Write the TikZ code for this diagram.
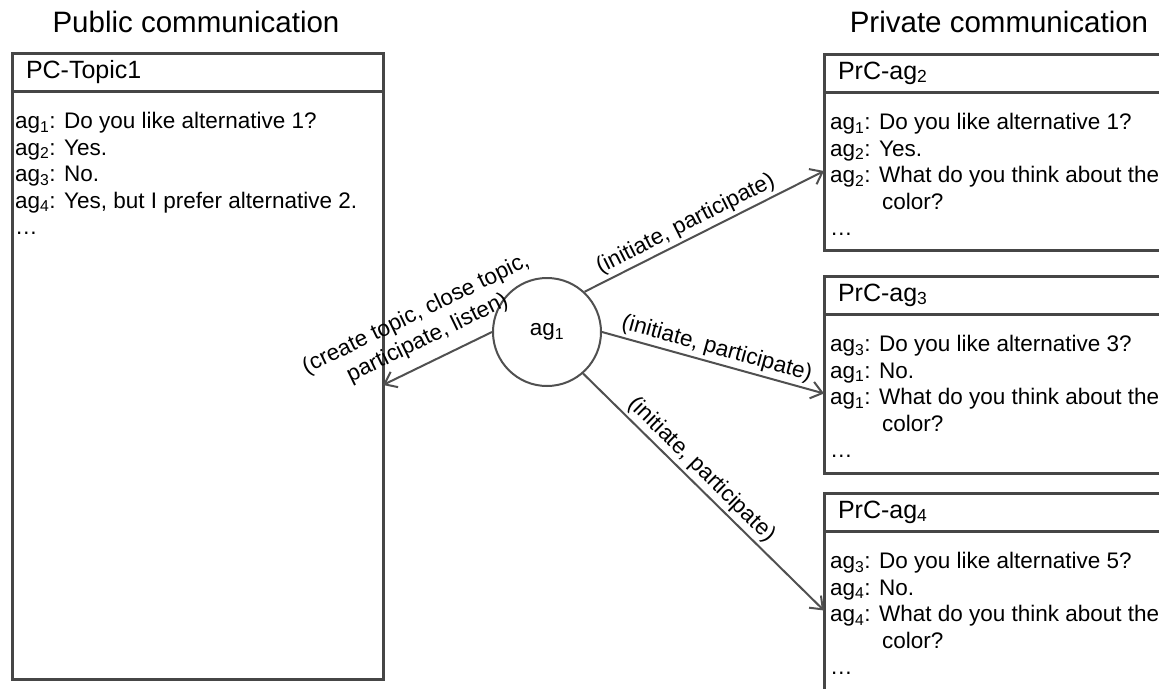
\documentclass[tikz,border=0pt]{standalone}
\usepackage{fontspec}
\setmainfont{Liberation Sans}
\usepackage{tikz}
\usetikzlibrary{
    arrows.meta,
    positioning
}
\definecolor{boxC} {RGB}{70, 70, 70}
\definecolor{lineC}{RGB}{80, 80, 80}
\newcommand{\agn}[1]{ag\textsubscript{#1}}
\tikzset{
  title/.style    = {anchor=base, font=\fontsize{29.5}{32}\selectfont},
  headbox/.style  = {draw=boxC, line width=3pt, anchor=north west, outer sep=0pt,
                     minimum width=371pt, minimum height=38pt, text width=343pt,
                     inner xsep=14pt, inner ysep=2pt, align=left,
                     font=\fontsize{25}{28}\selectfont},
  bodybox/.style  = {draw=boxC, line width=3pt, anchor=north, outer sep=0pt,
                     minimum width=371pt},
  msgs/.style     = {anchor=north west, align=left, inner sep=0pt,
                     font=\fontsize{22.5}{26.5}\selectfont},
  agent/.style    = {draw=lineC, circle, line width=2pt, minimum size=108pt,
                     inner sep=0pt, font=\fontsize{22.5}{26}\selectfont},
  arr/.style      = {-{Straight Barb[length=11pt,width=17pt]}, draw=lineC,
                     line width=2pt},
  lbl/.style      = {sloped, above, inner sep=3pt,
                     font=\fontsize{22.5}{26.5}\selectfont}
}

\begin{document}
\begin{tikzpicture}[x=1pt, y=-1pt]
  \useasboundingbox (0,0) rectangle (1159,688);
  \clip (0,0) rectangle (1159,688);

  %% ── Titles ────────────────────────────────────────────────────
  \node[title] (pubtitle) at (196,32) {Public communication};
  \node[title] (prtitle)  at (999,32) {Private communication};

  %% ── Public box ────────────────────────────────────────────────
  \node[headbox] (pubhead) at (12,53) {PC-Topic1};
  \node[bodybox, minimum height=588pt, below=0pt of pubhead] (pubbody) {};
  \node[msgs] (pubmsg) at ([xshift=3pt,yshift=-21pt]pubbody.north west) {%
    \agn{1}: Do you like alternative 1?\\
    \agn{2}: Yes.\\
    \agn{3}: No.\\
    \agn{4}: Yes, but I prefer alternative 2.\\
    …};

  %% ── Private boxes ─────────────────────────────────────────────
  \node[headbox] (prhead2) at (824,54) {PrC-\agn{2}};
  \node[bodybox, minimum height=158pt, below=0pt of prhead2] (prbody2) {};
  \node[msgs] (prmsg2) at ([xshift=6pt,yshift=-21pt]prbody2.north west) {%
    \agn{1}: Do you like alternative 1?\\
    \agn{2}: Yes.\\
    \agn{2}: What do you think about the\\
    \hspace*{52pt}color?\\
    …};

  \node[headbox] (prhead3) at (824,276) {PrC-\agn{3}};
  \node[bodybox, minimum height=159pt, below=0pt of prhead3] (prbody3) {};
  \node[msgs] (prmsg3) at ([xshift=6pt,yshift=-21pt]prbody3.north west) {%
    \agn{3}: Do you like alternative 3?\\
    \agn{1}: No.\\
    \agn{1}: What do you think about the\\
    \hspace*{52pt}color?\\
    …};

  \node[headbox] (prhead4) at (824,493) {PrC-\agn{4}};
  \node[bodybox, minimum height=159pt, below=0pt of prhead4] (prbody4) {};
  \node[msgs] (prmsg4) at ([xshift=6pt,yshift=-21pt]prbody4.north west) {%
    \agn{3}: Do you like alternative 5?\\
    \agn{4}: No.\\
    \agn{4}: What do you think about the\\
    \hspace*{52pt}color?\\
    …};

  %% ── Agent ─────────────────────────────────────────────────────
  \node[agent] (ag) at (547,332) {\agn{1}};

  %% ── Arrows ────────────────────────────────────────────────────
  % ag1 -> public topic
  \draw[arr] (ag.west) -- node[lbl, align=center, yshift=8pt]
    {(create topic, close topic,\\participate, listen)} (pubbody.east);
  % ag1 -> private channels
  \draw[arr] (ag.47)  -- node[lbl, pos=0.45] {(initiate, participate)} (prbody2.west);
  \draw[arr] (ag.east) -- node[lbl, pos=0.5] {(initiate, participate)} (prbody3.west);
  \draw[arr] (ag.-49) -- node[lbl, pos=0.45] {(initiate, participate)} (prbody4.west);

\end{tikzpicture}
\end{document}
